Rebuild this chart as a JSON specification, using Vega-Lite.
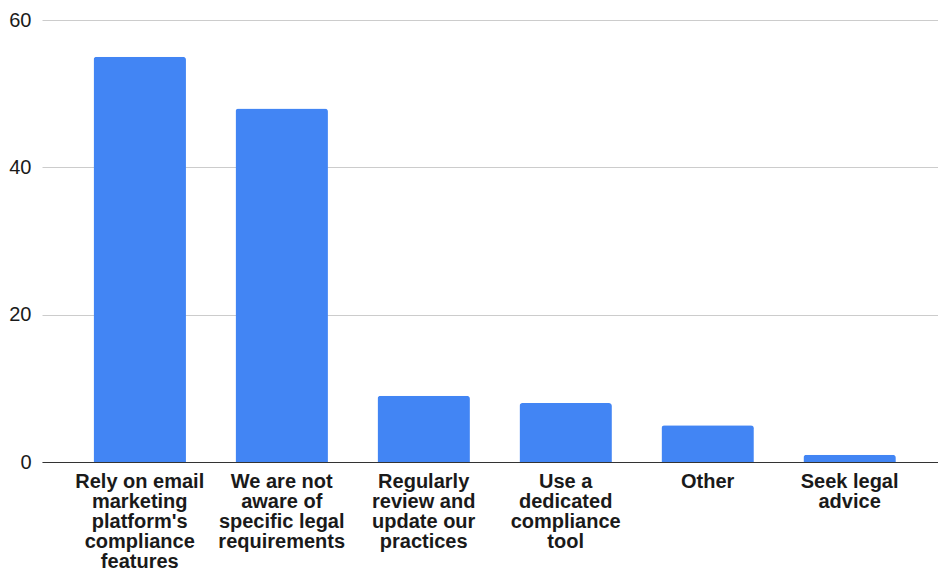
{
  "$schema": "https://vega.github.io/schema/vega-lite/v6.json",
  "width": 896,
  "height": 442,
  "autosize": "none",
  "padding": {"left": 42, "top": 20, "right": 0, "bottom": 107},
  "background": "white",
  "config": {"view": {"stroke": null}, "font": "Liberation Sans"},
  "data": {
    "values": [
      {"category": "Rely on email marketing platform's compliance features", "count": 55},
      {"category": "We are not aware of specific legal requirements", "count": 48},
      {"category": "Regularly review and update our practices", "count": 9},
      {"category": "Use a dedicated compliance tool", "count": 8},
      {"category": "Other", "count": 5},
      {"category": "Seek legal advice", "count": 1}
    ]
  },
  "mark": {"type": "bar", "color": "#4285F4", "cornerRadiusTopLeft": 3, "cornerRadiusTopRight": 3},
  "encoding": {
    "x": {
      "field": "category",
      "type": "nominal",
      "sort": null,
      "scale": {"paddingInner": 0.349, "paddingOuter": 0.33, "align": 0.55},
      "axis": {
        "title": null,
        "labelAngle": 0,
        "ticks": false,
        "domainColor": "#333333",
        "domainWidth": 1,
        "labelFont": "Liberation Sans",
        "labelFontWeight": "bold",
        "labelFontSize": 20,
        "labelColor": "#1a1a1a",
        "labelLineHeight": 20,
        "labelBaseline": "top",
        "labelPadding": 9,
        "labelLimit": 0,
        "labelExpr": "datum.value == \"Rely on email marketing platform's compliance features\" ? ['Rely on email', 'marketing', \"platform's\", 'compliance', 'features'] : datum.value == 'We are not aware of specific legal requirements' ? ['We are not', 'aware of', 'specific legal', 'requirements'] : datum.value == 'Regularly review and update our practices' ? ['Regularly', 'review and', 'update our', 'practices'] : datum.value == 'Use a dedicated compliance tool' ? ['Use a', 'dedicated', 'compliance', 'tool'] : datum.value == 'Seek legal advice' ? ['Seek legal', 'advice'] : datum.value"
      }
    },
    "y": {
      "field": "count",
      "type": "quantitative",
      "scale": {"domain": [0, 60], "nice": false},
      "axis": {
        "title": null,
        "values": [0, 20, 40, 60],
        "ticks": false,
        "domain": false,
        "gridColor": "#cccccc",
        "gridWidth": 1,
        "labelFont": "Liberation Sans",
        "labelFontSize": 20,
        "labelColor": "#1a1a1a",
        "labelPadding": 11
      }
    }
  }
}
